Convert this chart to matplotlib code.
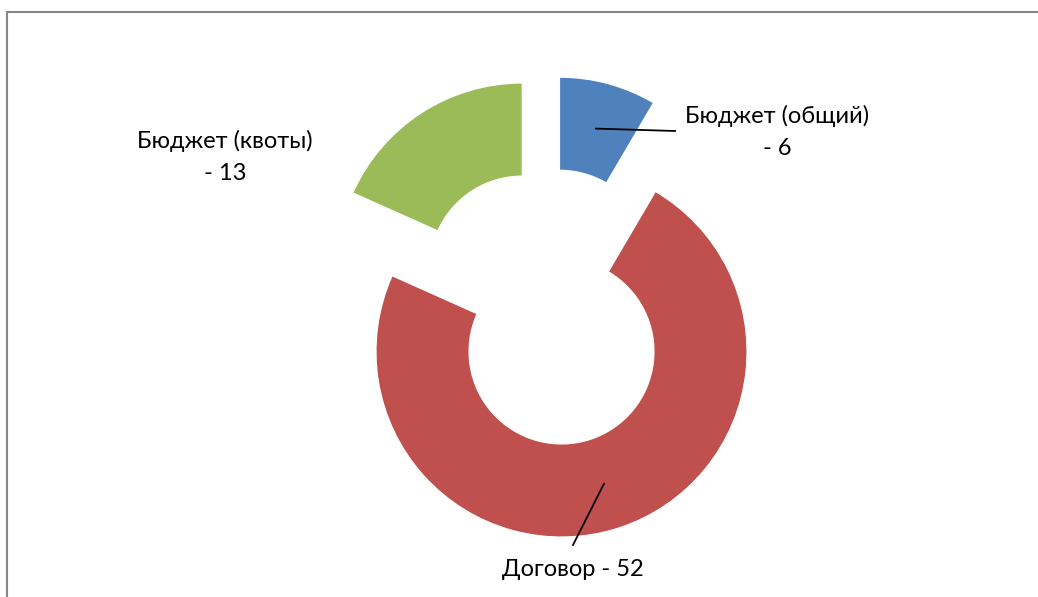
import numpy as np
import matplotlib
matplotlib.use('Agg')
import matplotlib.pyplot as plt
from matplotlib.patches import Rectangle

# данные диаграммы
labels = ['Бюджет (общий)', 'Договор', 'Бюджет (квоты)']
values = [6, 52, 13]
colors = ['#4F81BD', '#C0504D', '#9BBB59']

W, H = 1038, 597
fig = plt.figure(figsize=(W / 100, H / 100), dpi=100)
ax = fig.add_axes([0, 0, 1, 1])

# кольцо в пиксельных координатах
cx, cy = 547.4, H - 307.4
R, ring = 185.5, 93.0
expl = 46.3

wedges, _ = ax.pie(values, colors=colors, startangle=90, counterclock=False,
                   radius=R, center=(cx, cy), explode=[expl] * len(values),
                   wedgeprops=dict(width=ring, edgecolor='white', linewidth=0.8))
ax.set_xlim(0, W)
ax.set_ylim(0, H)
ax.axis('off')

plt.rcParams['font.family'] = ['Lato', 'DejaVu Sans']
fs = 17

def mid_point(w):
    ang = np.deg2rad((w.theta1 + w.theta2) / 2)
    r = w.r - w.width / 2
    return w.center[0] + r * np.cos(ang), w.center[1] + r * np.sin(ang)

# подписи
x0, y0 = mid_point(wedges[0])
ax.plot([x0, 675], [y0, H - 131], color='black', lw=1.3)
ax.text(777.5, H - 132, f'{labels[0]}\n- {values[0]}', ha='center', va='center',
        fontsize=fs, linespacing=1.7)

x1, y1 = mid_point(wedges[1])
ax.plot([x1, 573], [y1, H - 545], color='black', lw=1.3)
ax.text(572.5, H - 570, f'{labels[1]} - {values[1]}', ha='center', va='center',
        fontsize=fs)

ax.text(225, H - 157, f'{labels[2]}\n- {values[2]}', ha='center', va='center',
        fontsize=fs, linespacing=1.7)

# рамка области диаграммы
fig.patches.append(Rectangle((7 / W, -0.1), 1.2, (H - 12) / H + 0.1,
                             transform=fig.transFigure, fill=False,
                             edgecolor='#868686', linewidth=1.5))

fig.savefig('out.png', dpi=100)
